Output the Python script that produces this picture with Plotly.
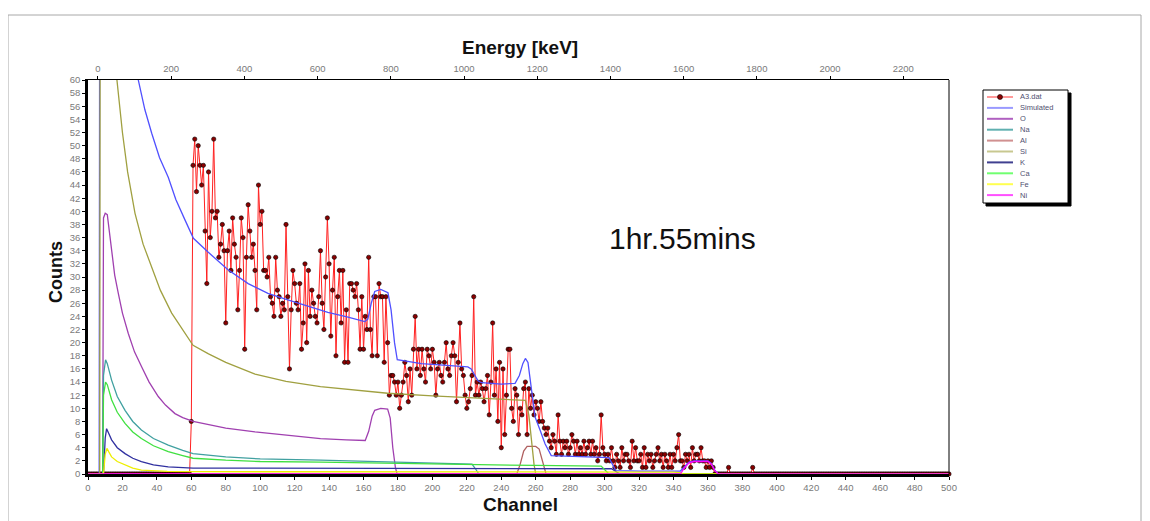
import plotly.graph_objects as go

# ---------------- data ----------------
# measured spectrum A3.dat, counts per channel, channel 0 ... 500
exp_counts = [
    0, 0, 0, 0, 0, 0, 0, 0, 0, 0, 0, 0, 0, 0, 0, 0, 0, 0, 0, 0,
    0, 0, 0, 0, 0, 0, 0, 0, 0, 0, 0, 0, 0, 0, 0, 0, 0, 0, 0, 0,
    0, 0, 0, 0, 0, 0, 0, 0, 0, 0, 0, 0, 0, 0, 0, 0, 0, 0, 0, 0,
    8, 47, 51, 43, 50, 47, 44, 47, 37, 29,
    46, 36, 40, 51, 39, 40, 33, 35, 38, 34,
    23, 34, 37, 31, 39, 35, 33, 25, 31, 39,
    36, 19, 33, 41, 37, 33, 35, 31, 25, 44,
    38, 40, 31, 31, 30, 33, 27, 26, 24, 33,
    28, 27, 24, 26, 25, 38, 27, 16, 25, 31,
    29, 26, 25, 29, 19, 23, 32, 20, 31, 24,
    28, 26, 24, 23, 27, 34, 26, 22, 30, 39,
    32, 21, 28, 33, 18, 27, 31, 23, 31, 17,
    25, 17, 29, 29, 28, 27, 29, 25, 19, 27,
    19, 24, 22, 33, 22, 18, 27, 27, 18, 29,
    27, 27, 17, 27, 20, 12, 15, 15, 14, 12,
    14, 10, 12, 14, 17, 15, 11, 16, 12, 19,
    24, 16, 19, 15, 19, 16, 14, 19, 18, 16,
    19, 17, 12, 16, 17, 15, 14, 17, 20, 16,
    15, 18, 20, 18, 11, 17, 23, 16, 15, 12,
    10, 11, 13, 15, 27, 12, 14, 12, 14, 13,
    11, 13, 15, 9, 14, 23, 12, 16, 8, 17,
    4, 16, 6, 12, 19, 19, 10, 8, 13, 12,
    6, 10, 9, 13, 14, 6, 13, 10, 12, 9,
    11, 10, 8, 11, 8, 7, 6, 7, 5, 4,
    6, 5, 3, 9, 5, 3, 5, 4, 5, 3,
    4, 6, 5, 3, 5, 3, 4, 3, 5, 3,
    4, 5, 3, 5, 3, 4, 2, 3, 9, 4,
    3, 2, 3, 2, 4, 2, 1, 3, 2, 1,
    4, 2, 3, 3, 2, 1, 5, 2, 4, 2,
    2, 3, 1, 4, 1, 3, 2, 3, 1, 2,
    3, 4, 2, 3, 1, 3, 2, 1, 3, 1,
    3, 2, 4, 6, 2, 2, 1, 3, 2, 3,
    1, 4, 2, 3, 3, 2, 4, 2, 2, 1,
    2, 1, 2, 1,
    0, 0, 0, 0, 0, 0, 0, 0, 1, 0,
    0, 0, 0, 0, 0, 0, 0, 0, 0, 0,
    0, 0, 1, 0, 0, 0, 0, 0, 0, 0,
    0, 0, 0, 0, 0, 0, 0, 0, 0, 0,
    0, 0, 0, 0, 0, 0, 0, 0, 0, 0,
    0, 0, 0, 0, 0, 0, 0, 0, 0, 0,
    0, 0, 0, 0, 0, 0, 0, 0, 0, 0,
    0, 0, 0, 0, 0, 0, 0, 0, 0, 0,
    0, 0, 0, 0, 0, 0, 0, 0, 0, 0,
    0, 0, 0, 0, 0, 0, 0, 0, 0, 0,
    0, 0, 0, 0, 0, 0, 0, 0, 0, 0,
    0, 0, 0, 0, 0, 0, 0, 0, 0, 0,
    0, 0, 0, 0, 0, 0, 0, 0, 0, 0,
    0, 0, 0, 0, 0, 0, 0,
]
exp_channels = list(range(len(exp_counts)))

# simulated total spectrum (read at knots)
sim_ch = [0, 6.5, 7, 20, 29.2, 33, 37, 41.5, 46.6, 51, 56.3, 61.2, 69.7, 81.3, 93, 104.5, 116,
          127.7, 139.3, 151, 160.7, 162.5, 164.5, 166.5, 170, 174.2, 176, 178, 179.6, 193.6,
          220.6, 222.5, 224.5, 226.5, 228.5, 240, 248, 250.5, 252.5, 254, 255.5, 257.6, 259.6,
          262.5, 265.4, 269, 280, 300, 302.5, 304.5, 306.5, 320, 340, 344, 346, 349, 352, 360,
          362, 364, 366, 500]
sim_val = [0, 0, 130, 85, 60, 55.5, 51.9, 48.2, 45.2, 41.8, 38.7, 35.9, 33.8, 31.1, 29.0, 27.5,
           26.5, 25.5, 24.6, 23.9, 23.2, 23.6, 26.0, 27.8, 28.1, 27.6, 25.0, 20.0, 17.4, 16.8,
           16.3, 16.0, 15.0, 14.2, 13.9, 13.7, 13.8, 15.0, 16.8, 17.6, 17.0, 12.3, 8.7, 6.7,
           4.6, 2.8, 2.7, 2.6, 2.5, 1.5, 0.5, 0.45, 0.4, 0.45, 1.0, 1.8, 2.0, 2.0, 1.6, 0.6,
           0, 0]

o_ch = [0, 8.5, 9, 10, 11.2, 12.3, 13.7, 15.5, 17.6, 20, 23.4, 27, 31.2, 35.5, 40.8, 45, 50.5,
        55, 61, 80, 97, 115, 135, 150, 161, 163, 165, 166.5, 170, 174, 175.5, 177, 178.5,
        179.5, 500]
o_val = [0, 0, 39, 39.7, 39.5, 37, 33.6, 30.3, 27.5, 24.5, 21.4, 18.6, 16.3, 14.0, 11.8, 10.5,
         9.2, 8.6, 8.0, 7.0, 6.4, 5.9, 5.4, 5.2, 5.1, 6.5, 8.8, 9.7, 10.0, 9.9, 8.5, 4.0, 1.0,
         0, 0]

na_ch = [0, 8.5, 9, 10.2, 11.2, 12.3, 13.7, 17, 21.5, 26, 31, 38, 46.6, 55, 61, 80, 100, 135,
         180, 220, 223, 225, 227, 500]
na_val = [0, 0, 15, 17.4, 16.8, 15.6, 14.3, 11.8, 9.7, 8.0, 6.7, 5.4, 4.4, 3.6, 3.1, 2.6, 2.3,
          2.1, 1.8, 1.6, 1.5, 0.8, 0, 0]

al_ch = [0, 249, 251, 253, 255, 260, 262, 264, 266, 500]
al_val = [0, 0, 1.5, 3.5, 4.2, 4.2, 3.8, 2.0, 0, 0]

si_ch = [0, 6.8, 7.3, 12, 16.8, 20, 23, 27.3, 32, 37, 42, 48.6, 55, 61, 70, 80, 97, 115, 135,
         155, 174, 200, 220, 240, 250, 254, 256, 257.5, 259, 260, 500]
si_val = [0, 0, 140, 80, 60, 52, 46, 39.7, 35.0, 31.6, 28.0, 24.5, 22.0, 19.6, 18.3, 17.0,
          15.2, 14.1, 13.3, 12.8, 12.3, 11.9, 11.6, 11.4, 11.2, 11.2, 9.0, 5.0, 1.5, 0, 0]

k_ch = [0, 9, 10, 10.8, 12, 13.7, 17, 21.5, 26, 31, 38, 46.6, 61, 150, 220, 300, 304, 307, 309, 500]
k_val = [0, 0, 5.5, 6.9, 6.2, 5.2, 4.0, 3.1, 2.4, 1.9, 1.4, 1.1, 0.9, 0.9, 0.9, 0.8, 0.8, 0.3, 0, 0]

ca_ch = [0, 8.5, 9, 10.2, 11.2, 12.3, 13.7, 17, 21.5, 26, 31, 38, 46.6, 55, 61, 80, 100, 135,
         180, 220, 260, 298, 300.5, 302.5, 500]
ca_val = [0, 0, 12, 14, 13.6, 12.5, 11.3, 9.4, 7.7, 6.4, 5.4, 4.3, 3.4, 2.8, 2.4, 2.1, 1.9, 1.8,
          1.6, 1.4, 1.3, 1.2, 0.6, 0, 0]

fe_ch = [0, 9, 10, 11, 12, 13.7, 17, 21.5, 26, 31, 46, 61, 150, 250, 340, 344, 346, 500]
fe_val = [0, 0, 3.0, 3.9, 3.4, 2.6, 1.9, 1.4, 0.9, 0.6, 0.4, 0.35, 0.35, 0.3, 0.3, 0.2, 0, 0]

ni_ch = [0, 344, 346, 349, 352, 360, 362, 364, 366, 500]
ni_val = [0, 0, 0.8, 1.7, 1.9, 1.9, 1.5, 0.5, 0, 0]

legend_names = ["A3.dat", "Simulated", "O", "Na", "Al", "Si", "K", "Ca", "Fe", "Ni"]

x_ticks = list(range(0, 501, 20))
y_ticks = list(range(0, 61, 2))
e_ticks = list(range(0, 2201, 200))

# ---------------- styling ----------------
OFF = 8                                  # page body margin of the browser
W, H = 1150 - OFF, 521 - OFF
# plot area, in screenshot pixels
RL, RR, RT, RB = 88, 949, 80, 474
PL, PR, PT, PB = RL - OFF, RR - OFF, RT - OFF, RB - OFF   # in figure pixels
CH_RANGE = [0, 500]
E_RANGE = [-27.3, 2325]
Y_RANGE = [0, 60]

line_colors = {
    "Simulated": "#5050ff", "O": "#a040b0", "Na": "#40a0a0", "Al": "#b06060",
    "Si": "#a0a040", "K": "#3030a0", "Ca": "#40e040", "Fe": "#eeee00", "Ni": "#ff00ff",
}
legend_line_colors = {
    "A3.dat": "#ff9a9a", "Simulated": "#9a9aff", "O": "#b060c0", "Na": "#60b0b0",
    "Al": "#d09090", "Si": "#c8c890", "K": "#404090", "Ca": "#70ff70", "Fe": "#ffff50",
    "Ni": "#ff50ff",
}


def px(xs):
    """screenshot x pixel -> paper coordinate"""
    return (xs - RL) / (RR - RL)


def py(ys):
    """screenshot y pixel -> paper coordinate"""
    return (RB - ys) / (RB - RT)


fig = go.Figure()

fig.add_trace(go.Scatter(
    x=exp_channels, y=exp_counts, mode="lines+markers", name="A3.dat",
    line=dict(color="#ff2020", width=1),
    marker=dict(size=4.3, color="#8a0000", line=dict(color="#000000", width=0.6)),
    cliponaxis=False, showlegend=False,
))

curves = [
    ("Simulated", sim_ch, sim_val), ("O", o_ch, o_val), ("Na", na_ch, na_val),
    ("Al", al_ch, al_val), ("Si", si_ch, si_val), ("K", k_ch, k_val),
    ("Ca", ca_ch, ca_val), ("Fe", fe_ch, fe_val), ("Ni", ni_ch, ni_val),
]
for name, xs, ys in curves:
    fig.add_trace(go.Scatter(
        x=xs, y=ys, mode="lines", name=name,
        line=dict(color=line_colors[name], width=1.3),
        showlegend=False,
    ))

tick_font = dict(family="Liberation Sans, Arial, sans-serif", size=9.5, color="#7a7a7a")

fig.update_layout(
    width=W, height=H,
    margin=dict(l=PL, r=W - PR, t=PT, b=H - PB, pad=0),
    paper_bgcolor="white", plot_bgcolor="white",
    showlegend=False,
    xaxis=dict(
        range=CH_RANGE, tickmode="array", tickvals=x_ticks, ticktext=[str(v) for v in x_ticks],
        ticks="outside", ticklen=3, tickcolor="#000000", tickwidth=1,
        showline=True, linecolor="#000000", linewidth=2.5,
        showgrid=False, zeroline=False, tickfont=tick_font,
    ),
    xaxis2=dict(
        range=E_RANGE, overlaying="x", side="top", anchor="y",
        tickmode="array", tickvals=e_ticks, ticktext=[str(v) for v in e_ticks],
        ticks="outside", ticklen=3, tickcolor="#000000", tickwidth=1,
        showline=True, linecolor="#000000", linewidth=1,
        showgrid=False, zeroline=False, tickfont=tick_font,
    ),
    yaxis=dict(
        range=Y_RANGE, tickmode="array", tickvals=y_ticks, ticktext=[str(v) for v in y_ticks],
        ticks="outside", ticklen=3, tickcolor="#000000", tickwidth=1,
        showline=True, linecolor="#000000", linewidth=2.5,
        showgrid=False, zeroline=False, tickfont=tick_font,
    ),
)

# invisible trace so the energy axis is drawn
fig.add_trace(go.Scatter(x=[e_ticks[0]], y=[y_ticks[0]], xaxis="x2", mode="markers",
                         marker=dict(opacity=0), showlegend=False, hoverinfo="skip"))

shapes = []
# outer gray frame
shapes.append(dict(type="rect", xref="paper", yref="paper", x0=px(8), x1=px(1141),
                   y0=py(540), y1=py(15), line=dict(color="#a8a8a8", width=1), layer="below"))
# right frame line
shapes.append(dict(type="line", xref="paper", yref="paper", x0=1, x1=1, y0=0, y1=1,
                   line=dict(color="#000000", width=1)))
# legend shadow and box
LX0, LX1, LY0, LY1 = 983, 1068, 90, 203
shapes.append(dict(type="rect", xref="paper", yref="paper", x0=px(LX0 + 3), x1=px(LX1 + 3),
                   y0=py(LY1 + 3), y1=py(LY0 + 3), fillcolor="#000000",
                   line=dict(color="#000000", width=1)))
shapes.append(dict(type="rect", xref="paper", yref="paper", x0=px(LX0), x1=px(LX1),
                   y0=py(LY1), y1=py(LY0), fillcolor="#ffffff",
                   line=dict(color="#000000", width=1)))

annotations = []
for i, name in enumerate(legend_names):
    yy = 97 + 10.9 * i
    shapes.append(dict(type="line", xref="paper", yref="paper", x0=px(987), x1=px(1013),
                       y0=py(yy), y1=py(yy),
                       line=dict(color=legend_line_colors[name], width=2)))
    if name == "A3.dat":
        shapes.append(dict(type="circle", xref="paper", yref="paper",
                           x0=px(997.5), x1=px(1002.5), y0=py(yy + 2.5), y1=py(yy - 2.5),
                           fillcolor="#8a0000", line=dict(color="#000000", width=0.6)))
    annotations.append(dict(xref="paper", yref="paper", x=px(1018), y=py(yy), text=name,
                            showarrow=False, xanchor="left", yanchor="middle",
                            font=dict(family="Liberation Sans, Arial, sans-serif", size=7.5,
                                      color="#505070")))

title_font = dict(family="Liberation Sans, Arial, sans-serif", size=19, color="#111111")
annotations.append(dict(xref="paper", yref="paper", x=px(520), y=py(48), text="<b>Energy [keV]</b>",
                        showarrow=False, xanchor="center", yanchor="middle", font=title_font))
annotations.append(dict(xref="paper", yref="paper", x=px(520), y=py(504), text="<b>Channel</b>",
                        showarrow=False, xanchor="center", yanchor="middle", font=title_font))
annotations.append(dict(xref="paper", yref="paper", x=px(56), y=py(272), text="<b>Counts</b>",
                        showarrow=False, xanchor="center", yanchor="middle", textangle=-90,
                        font=dict(family="Liberation Sans, Arial, sans-serif", size=18,
                                  color="#111111")))
annotations.append(dict(xref="paper", yref="paper", x=px(682), y=py(238), text="1hr.55mins",
                        showarrow=False, xanchor="center", yanchor="middle",
                        font=dict(family="Liberation Sans, Arial, sans-serif", size=30,
                                  color="#111111")))

fig.update_layout(shapes=shapes, annotations=annotations)

fig.write_html("out.html")
